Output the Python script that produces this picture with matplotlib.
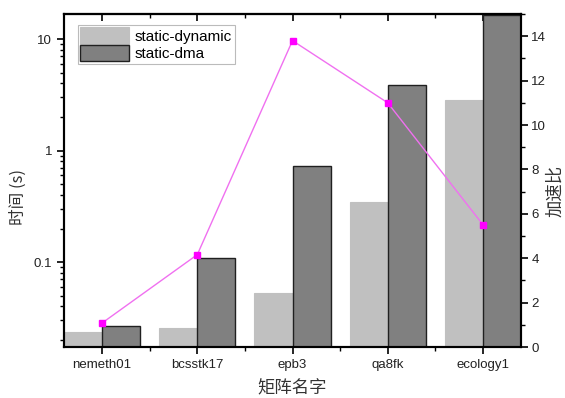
import matplotlib
matplotlib.use("Agg")
import matplotlib.pyplot as plt
import numpy as np
from matplotlib.ticker import LogLocator, FixedLocator, NullFormatter, MultipleLocator

plt.rcParams['font.family'] = ['Liberation Sans', 'Noto Sans CJK SC', 'DejaVu Sans']

categories = ["nemeth01", "bcsstk17", "epb3", "qa8fk", "ecology1"]
static_dynamic = [0.0237, 0.0258, 0.0523, 0.347, 2.84]
static_dma = [0.0267, 0.109, 0.734, 3.86, 16.4]
speedup = [1.08, 4.16, 13.8, 11.0, 5.51]

fig = plt.figure(figsize=(5.65, 3.98), dpi=100)
ax = fig.add_axes([64/565, 1-347/398, (521-64)/565, (347-14)/398])
x = np.arange(len(categories))
w = 0.4
ax.bar(x - w/2, static_dynamic, w, color='#c0c0c0', edgecolor='#c0c0c0', linewidth=0.8, label='static-dynamic')
ax.bar(x + w/2, static_dma, w, color='#808080', edgecolor='#202020', linewidth=1.0, label='static-dma')
ax.set_yscale('log')
ax.set_ylim(0.0173, 16.8)
ax.set_xlim(-0.4, 4.4)
ax.set_xticks(x)
ax.set_xticklabels(categories, fontsize=9.5, color='#222222')
ax.xaxis.set_minor_locator(FixedLocator(x[:-1] + 0.5))
ax.yaxis.set_minor_locator(LogLocator(base=10, subs=np.arange(2, 10), numticks=20))
ax.yaxis.set_minor_formatter(NullFormatter())
ax.set_yticks([0.1, 1, 10])
ax.set_yticklabels(['0.1', '1', '10'], fontsize=9.5, color='#222222')
ax.tick_params(axis='y', which='major', direction='out', length=5, width=1.2)
ax.tick_params(axis='y', which='minor', direction='out', length=3, width=1)
ax.tick_params(axis='x', which='major', direction='out', length=5, width=1.2)
ax.tick_params(axis='x', which='minor', direction='out', length=3, width=1)
for s in ax.spines.values():
    s.set_linewidth(1.5)
ax.set_xlabel('矩阵名字', fontsize=12.5, family=['Noto Sans CJK SC'], color='#333333', labelpad=6)
ax.set_ylabel('时间 (s)', fontsize=12, family=['Noto Sans CJK SC', 'DejaVu Sans'], color='#333333')
ax.yaxis.set_label_coords(-0.081, 0.45)

top = ax.secondary_xaxis('top')
top.set_xticks(x)
top.xaxis.set_minor_locator(FixedLocator(x[:-1] + 0.5))
top.tick_params(axis='x', which='major', direction='in', length=5, width=1.2, labeltop=False)
top.tick_params(axis='x', which='minor', direction='in', length=3, width=1)
top.set_xticklabels([])
top.spines['top'].set_linewidth(1.5)

ax2 = ax.twinx()
ax2.plot(x, speedup, color='#f070f0', linewidth=1.0, marker='s', markersize=5,
         markerfacecolor='#ff00ff', markeredgecolor='#ff00ff')
ax2.set_ylim(0, 15)
ax2.yaxis.set_major_locator(MultipleLocator(2))
ax2.yaxis.set_minor_locator(MultipleLocator(1))
ax2.tick_params(axis='y', which='major', direction='out', length=5, width=1.2, pad=2.5,
                labelsize=9.5, labelcolor='#222222')
ax2.tick_params(axis='y', which='minor', direction='out', length=3, width=1)
ax2.set_ylabel('加速比', fontsize=12.5, family=['Noto Sans CJK SC'], color='#333333', rotation=90)
ax2.yaxis.set_label_coords(1.056, 0.468)
for s in ax2.spines.values():
    s.set_linewidth(1.5)

leg = ax.legend(loc='upper left', bbox_to_anchor=(0.03, 0.967), fontsize=11, frameon=True,
                fancybox=False, edgecolor='#aaaaaa', handlelength=3.2, handleheight=1.3,
                borderpad=0.15, labelspacing=0.05, handletextpad=0.4, borderaxespad=0)
leg.get_frame().set_linewidth(0.8)

fig.savefig('out.png', dpi=100)
